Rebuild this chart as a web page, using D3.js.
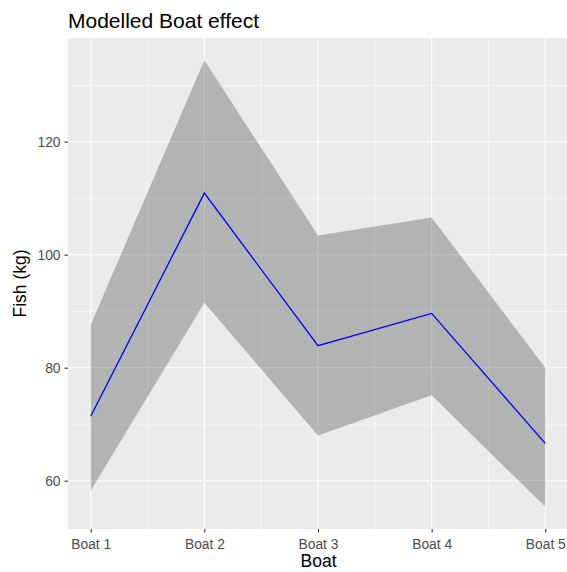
<!DOCTYPE html>
<html>
<head>
<meta charset="utf-8">
<script src="https://cdn.jsdelivr.net/npm/d3@7"></script>
<style>
  body { margin: 0; background: #fff; }
  svg { display: block; font-family: "Liberation Sans", Arial, sans-serif; }
</style>
</head>
<body>
<svg width="567" height="572"></svg>
<script>
const boats = ["Boat 1", "Boat 2", "Boat 3", "Boat 4", "Boat 5"];
const fit = [71.4, 110.9, 83.9, 89.6, 66.6];
const upper = [87.6, 134.4, 103.4, 106.6, 80.0];
const lower = [58.2, 91.5, 68.0, 75.1, 55.4];
const yTicks = [60, 80, 100, 120];
const yMinor = [70, 90, 110, 130];

const data = boats.map((b, i) => ({ i: i + 1, fit: fit[i], hi: upper[i], lo: lower[i] }));

let svg = d3.select("svg");
let padding = { top: 38, right: 0, bottom: 43, left: 68 };
const chartArea = {
  width: 567 - padding.left - padding.right,
  height: 572 - padding.top - padding.bottom
};

// ggplot-like 5% expansion
const yMin = d3.min(lower), yMax = d3.max(upper);
const yPad = (yMax - yMin) * 0.05;
const yScale = d3.scaleLinear()
  .domain([yMin - yPad, yMax + yPad])
  .range([chartArea.height, 0]);

const xScale = d3.scaleLinear()
  .domain([1 - 0.2, 5 + 0.2])
  .range([0, chartArea.width + 1]);

let g = svg.append("g")
  .attr("transform", "translate(" + padding.left + "," + padding.top + ")");

g.append("rect")
  .attr("width", chartArea.width)
  .attr("height", chartArea.height)
  .attr("fill", "#EBEBEB");

// minor grid
g.selectAll(".ymin").data(yMinor).enter().append("line")
  .attr("x1", 0).attr("x2", chartArea.width)
  .attr("y1", d => yScale(d)).attr("y2", d => yScale(d))
  .attr("stroke", "#fff").attr("stroke-width", 0.55);
g.selectAll(".xmin").data([1.5, 2.5, 3.5, 4.5]).enter().append("line")
  .attr("y1", 0).attr("y2", chartArea.height)
  .attr("x1", d => xScale(d)).attr("x2", d => xScale(d))
  .attr("stroke", "#fff").attr("stroke-width", 0.55);

// major grid
g.selectAll(".ymaj").data(yTicks).enter().append("line")
  .attr("x1", 0).attr("x2", chartArea.width)
  .attr("y1", d => yScale(d)).attr("y2", d => yScale(d))
  .attr("stroke", "#fff").attr("stroke-width", 1.1);
g.selectAll(".xmaj").data(data).enter().append("line")
  .attr("y1", 0).attr("y2", chartArea.height)
  .attr("x1", d => xScale(d.i)).attr("x2", d => xScale(d.i))
  .attr("stroke", "#fff").attr("stroke-width", 1.1);

// ribbon
const area = d3.area()
  .x(d => xScale(d.i))
  .y0(d => yScale(d.lo))
  .y1(d => yScale(d.hi));
g.append("path").datum(data)
  .attr("d", area)
  .attr("fill", "#000")
  .attr("fill-opacity", 0.24);

// fitted line
const line = d3.line()
  .x(d => xScale(d.i))
  .y(d => yScale(d.fit));
g.append("path").datum(data)
  .attr("d", line)
  .attr("fill", "none")
  .attr("stroke", "#0000FF")
  .attr("stroke-width", 1.3);

// axes
const yAxis = g.append("g")
  .call(d3.axisLeft(yScale).tickValues(yTicks).tickSize(3.5).tickPadding(4));
const xAxis = g.append("g")
  .attr("transform", "translate(0," + chartArea.height + ")")
  .call(d3.axisBottom(xScale).tickValues([1, 2, 3, 4, 5])
    .tickFormat(d => boats[d - 1]).tickSize(3.5).tickPadding(7));

[xAxis, yAxis].forEach(a => {
  a.select(".domain").remove();
  a.selectAll(".tick line").attr("stroke", "#333").attr("stroke-width", 1.1);
  a.selectAll(".tick text")
    .attr("fill", "#4D4D4D")
    .style("font-size", "13.8px")
    .style("font-family", "Liberation Sans, Arial, sans-serif");
});

// titles
svg.append("text")
  .attr("x", padding.left)
  .attr("y", 28)
  .attr("font-size", 21)
  .attr("fill", "#000")
  .text("Modelled Boat effect");

svg.append("text")
  .attr("x", padding.left + chartArea.width / 2 + 1)
  .attr("y", 567)
  .attr("text-anchor", "middle")
  .attr("font-size", 17.5)
  .text("Boat");

svg.append("text")
  .attr("transform", "translate(26," + (padding.top + chartArea.height / 2) + ") rotate(-90)")
  .attr("text-anchor", "middle")
  .attr("font-size", 17.5)
  .text("Fish (kg)");
</script>
</body>
</html>
